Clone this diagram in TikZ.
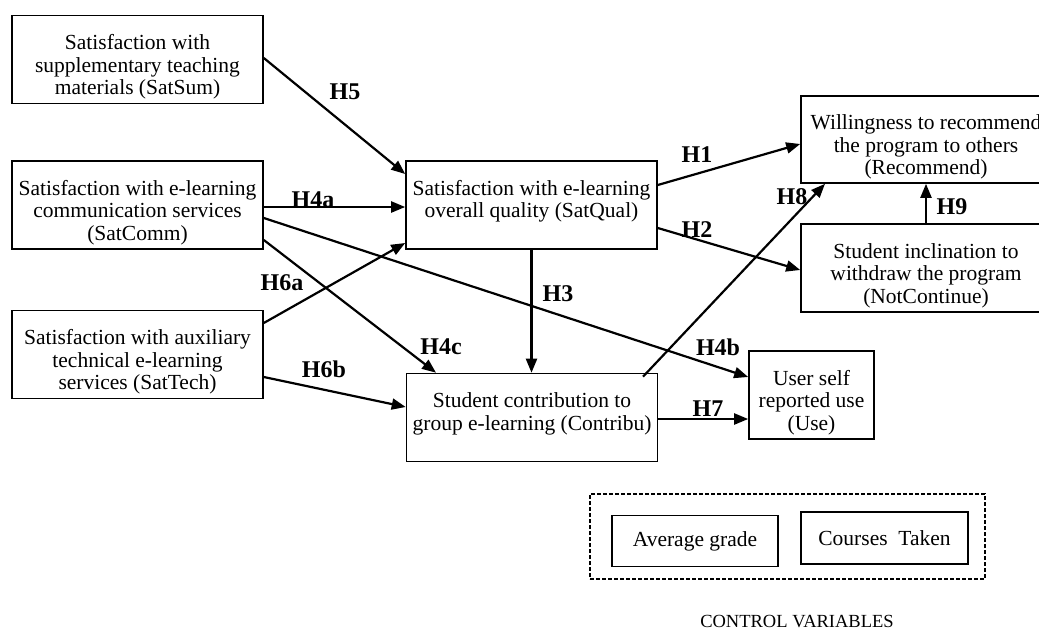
\documentclass[tikz,border=0pt]{standalone}
\usepackage{fontspec}
\setmainfont{Liberation Serif}
\usetikzlibrary{arrows.meta}

\begin{document}
\begin{tikzpicture}[x=1pt, y=-1pt,
                   box/.style={draw, line width=1.6pt, minimum width=251pt, minimum height=88pt,
                               inner sep=2pt, align=center, font=\fontsize{21.5}{22.5}\selectfont},
                   lowtext/.style={text depth=12pt},
                   hightext/.style={text height=75pt},
                   usebox/.style={box, minimum width=125pt},
                   ctlbox/.style={box, minimum width=166pt, minimum height=51pt},
                   hyp/.style={font=\fontsize{24}{26}\selectfont\bfseries, inner sep=0pt},
                   link/.style={line width=2.2pt, -{Triangle[length=14pt,width=11pt]}}]
    \useasboundingbox (0,0) rectangle (1039,627);
    % constructs
    \node[box, hightext] (satsum)  at (137.5,59.5) {Satisfaction with\\supplementary teaching\\materials (SatSum)};
    \node[box, hightext] (satcomm) at (137.5,205)  {Satisfaction with e-learning\\communication services\\(SatComm)};
    \node[box, hightext] (sattech) at (137.5,354.5) {Satisfaction with auxiliary\\technical e-learning\\services (SatTech)};
    \node[box, lowtext] (satqual)  at (531.5,205)  {Satisfaction with e-learning\\overall quality (SatQual)};
    \node[box, lowtext] (contribu) at (532,417.5)  {Student contribution to\\group e-learning (Contribu)};
    \node[box, hightext, minimum width=250pt, minimum height=87pt] (recommend) at (926,139.5) {Willingness to recommend\\the program to others\\(Recommend)};
    \node[box, hightext, minimum width=250pt] (notcont) at (926,268) {Student inclination to\\withdraw the program\\(NotContinue)};
    \node[usebox, hightext] (use) at (811.5,395) {User self\\reported use\\(Use)};
    % control variables
    \node[draw, line width=1.6pt, dash pattern=on 4pt off 2pt, minimum width=395pt, minimum height=85pt] (ctrl) at (787.5,536.5) {};
    \node[ctlbox] (avg) at (695,541) {Average grade};
    \node[ctlbox, minimum width=167pt, minimum height=52pt] (courses) at (884.5,538) {Courses\ \ Taken};
    \node[anchor=base, font=\fontsize{18.5}{20}\selectfont] (ctrltitle) at (797,627) {CONTROL VARIABLES};
    % hypotheses
    \node[hyp] (h5)  at (345,92)  {H5};
    \node[hyp] (h4a) at (313,200) {H4a};
    \node[hyp] (h1)  at (697,155) {H1};
    \node[hyp] (h2)  at (697,230) {H2};
    \node[hyp] (h8)  at (792,197) {H8};
    \node[hyp] (h9)  at (952,207) {H9};
    \node[hyp] (h3)  at (558,294) {H3};
    \node[hyp] (h6a) at (282,283) {H6a};
    \node[hyp] (h6b) at (324,369) {H6b};
    \node[hyp] (h4c) at (441,347) {H4c};
    \node[hyp] (h4b) at (718,347) {H4b};
    \node[hyp] (h7)  at (708,409) {H7};
    \draw[link] ([yshift=1.5pt]satsum.east) -- ([yshift=31pt]satqual.west);
    \draw[link] ([yshift=-2pt]satcomm.east) -- ([yshift=-2pt]satqual.west);
    \draw[link] ([yshift=-13pt]satcomm.east) -- ([yshift=18pt]use.west);
    \draw[link] ([yshift=-35pt]satcomm.east) -- ([xshift=-96pt]contribu.north);
    \draw[link] ([yshift=31.5pt]sattech.east) -- ([yshift=-38pt]satqual.west);
    \draw[link] ([yshift=-22.5pt]sattech.east) -- ([yshift=10.5pt]contribu.west);
    \draw[link] (satqual.south) -- (satqual.south |- contribu.north);
    \draw[link] ([yshift=20pt]satqual.east) -- ([yshift=-4.5pt]recommend.west);
    \draw[link] ([yshift=-23pt]satqual.east) -- ([yshift=-2pt]notcont.west);
    \draw[link] ([xshift=111pt,yshift=-4pt]contribu.north) -- ([xshift=-101pt]recommend.south);
    \draw[link] (notcont.north) -- (recommend.south);
    \draw[link] ([yshift=-1.5pt]contribu.east) -- ([yshift=-24pt]use.west);
\end{tikzpicture}
\end{document}
